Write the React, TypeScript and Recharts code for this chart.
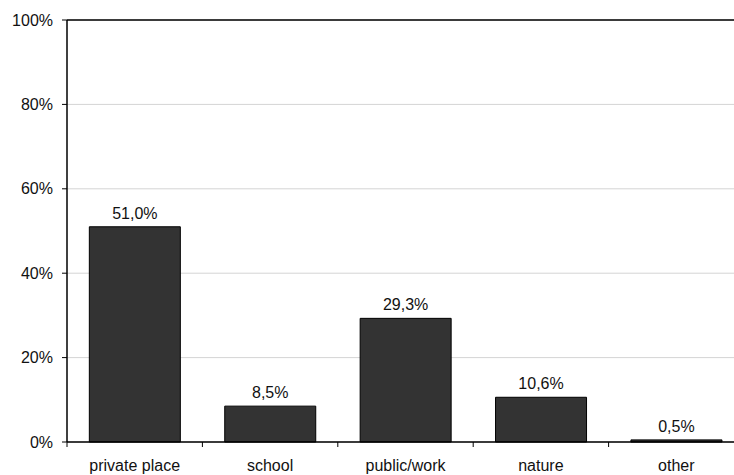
import React from 'react';
import { BarChart, Bar, XAxis, YAxis, CartesianGrid, ReferenceLine, LabelList } from 'recharts';

const categories = ['private place', 'school', 'public/work', 'nature', 'other'];
const shares = [51.0, 8.5, 29.3, 10.6, 0.5];
const yTicks = [0, 20, 40, 60, 80, 100];

const data = categories.map((name, i) => ({ name, value: shares[i] }));

const CHART_W = 744;
const CHART_H = 475;
const X_AXIS_H = 33;
const MARGIN = { top: 20, right: 0, left: 0, bottom: 0 };
const Y_AXIS_W = 67;
const PLOT_W = CHART_W - MARGIN.left - MARGIN.right - Y_AXIS_W;
const PLOT_BOTTOM = CHART_H - MARGIN.bottom - X_AXIS_H;
const BAND = PLOT_W / categories.length;
const FONT = '"Liberation Sans", Arial, sans-serif';
const FS = 16;
const TEXT = '#111';

const XTick = (props: any) => {
  const { x, payload } = props;
  const left = x - BAND / 2;
  return (
    <g>
      <line x1={left} x2={left} y1={PLOT_BOTTOM} y2={PLOT_BOTTOM + 5} stroke="#000" strokeWidth={1} />
      <text x={x} y={PLOT_BOTTOM + 18} dy="0.71em" textAnchor="middle" fill={TEXT} fontSize={FS} fontFamily={FONT}>
        {payload.value}
      </text>
    </g>
  );
};

const fmt = (v: any) => `${Number(v).toFixed(1).replace('.', ',')}%`;

export default function App() {
  return (
    <div style={{ position: 'absolute', left: 0, top: 0, width: 734, height: 475, overflow: 'hidden', background: '#fff' }}>
      <BarChart width={CHART_W} height={CHART_H} data={data} margin={MARGIN} barCategoryGap="16.5%">
        <CartesianGrid vertical={false} stroke="#d4d4d4" />
        <ReferenceLine y={100} stroke="#000" strokeWidth={1.5} />
        <XAxis
          dataKey="name"
          axisLine={{ stroke: '#000', strokeWidth: 1.5 }}
          tickLine={false}
          tick={<XTick />}
          interval={0}
          height={X_AXIS_H}
        />
        <YAxis
          width={Y_AXIS_W}
          domain={[0, 100]}
          ticks={yTicks}
          tickFormatter={(v: number) => `${v}%`}
          axisLine={{ stroke: '#000', strokeWidth: 1.5 }}
          tickLine={{ stroke: '#000' }}
          tickSize={5}
          tickMargin={9}
          tick={{ fill: TEXT, fontSize: FS, fontFamily: FONT }}
          interval={0}
        />
        <Bar dataKey="value" fill="#333333" stroke="#000" strokeWidth={1} isAnimationActive={false}>
          <LabelList dataKey="value" position="top" offset={8} formatter={fmt} fill={TEXT} fontSize={FS} fontFamily={FONT} />
        </Bar>
      </BarChart>
    </div>
  );
}
